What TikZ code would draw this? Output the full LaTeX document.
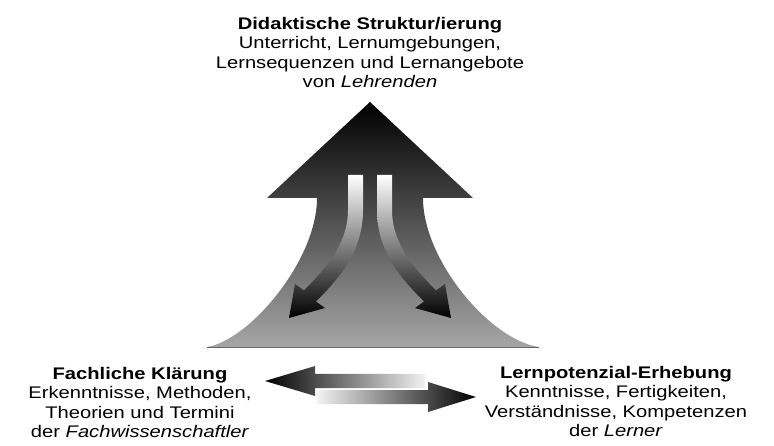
\documentclass[tikz,border=0pt]{standalone}
\usepackage{fontspec}
\setmainfont{Liberation Sans}
\newcommand\polelines[1]{\scalebox{1.2}[1]{\begin{tabular}{@{}c@{}}#1\end{tabular}}}

\begin{document}
\begin{tikzpicture}[x=1pt,y=-1pt,
	pole/.style={inner sep=0pt,anchor=north,font=\fontsize{16.8}{19.5}\selectfont},
	bigarrow/.style={top color=black,middle color=black!78,bottom color=black!35},
	bendarrow/.style={top color=white,middle color=black!80,bottom color=black},
	leftarrow/.style={left color=black,middle color=black!85,right color=black!5},
	rightarrow/.style={left color=black!5,middle color=black!85,right color=black}]
	\useasboundingbox (0,0) rectangle (774,446);
	\shade[bigarrow] (370,102) -- (473,198) -- (423,198) .. controls (423,260) and (490,340) .. (539,347)
		-- (207,347) .. controls (250,340) and (317,260) .. (317,198) -- (267,198) -- cycle;
	\draw[black!60,line width=0.8pt] (207,347) -- (539,347);
	\foreach \s in {1,-1}{
		\begin{scope}[shift={(370,0)},xscale=\s]
			\shade[bendarrow] (-22,175) -- (-22,210) .. controls (-22,245) and (-46,270) .. (-66,290.5)
				-- (-75,284) -- (-81,318) -- (-45,308) -- (-54,301.5)
				.. controls (-29,276.5) and (-7,250) .. (-7,210) -- (-7,175) -- cycle;
		\end{scope}
	}
	\shade[leftarrow] (265,381) -- (315,366) -- (315,374) -- (425,374) -- (425,388) -- (315,388) -- (315,396) -- cycle;
	\shade[rightarrow] (476,397) -- (428,382) -- (428,390) -- (317,390) -- (317,404) -- (428,404) -- (428,412) -- cycle;
	\node[pole] (didaktik) at (370,15.4) {\polelines{\textbf{Didaktische Struktur/ierung}\\Unterricht, Lernumgebungen,\\Lernsequenzen und Lernangebote\\von \textit{Lehrenden}}};
	\node[pole] (fachlich) at (140,365.4) {\polelines{\textbf{Fachliche Klärung}\\Erkenntnisse, Methoden,\\Theorien und Termini\\der \textit{Fachwissenschaftler}}};
	\node[pole] (lernpot) at (616,364.4) {\polelines{\textbf{Lernpotenzial-Erhebung}\\Kenntnisse, Fertigkeiten,\\Verständnisse, Kompetenzen\\der \textit{Lerner}}};
\end{tikzpicture}
\end{document}
